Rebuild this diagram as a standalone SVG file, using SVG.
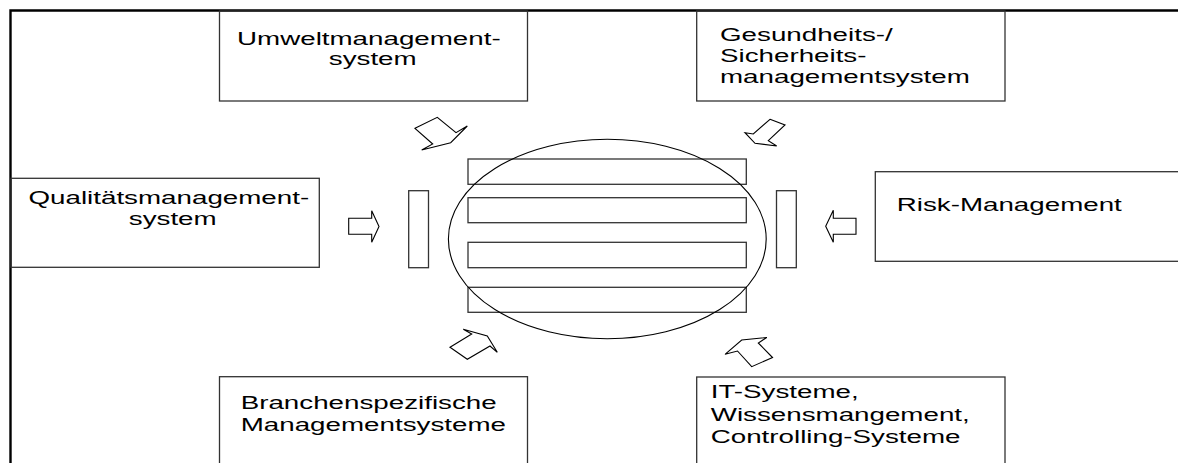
<svg xmlns="http://www.w3.org/2000/svg" width="1178" height="463" viewBox="0 0 1178 463">
  <style>
    .box { fill: none; stroke: #333; stroke-width: 1.3; }
    .bar { fill: none; stroke: #333; stroke-width: 1.3; }
    .core { fill: none; stroke: #000; stroke-width: 1.1; }
    .arrow { fill: #fff; stroke: #000; stroke-width: 1.1; stroke-linejoin: miter; }
    .label { font-family: "Liberation Sans", Arial, sans-serif; font-size: 18.5px; fill: #000; }
  </style>

  <rect x="0" y="0" width="1178" height="463" fill="#fff"/>

  <!-- frame -->
  <path d="M10.5,463 V10.5 H1178" fill="none" stroke="#000" stroke-width="2.4"/>

  <g id="umwelt">
    <rect class="box" x="219.5" y="11" width="308" height="90"/>
    <text class="label" text-anchor="middle" transform="translate(372.7,0) scale(1.5,1)">
      <tspan x="0" y="45">Umweltmanagement-</tspan>
      <tspan x="0" y="65.5">system</tspan>
    </text>
  </g>

  <g id="gesundheit">
    <rect class="box" x="696.7" y="11" width="308.3" height="90"/>
    <text class="label" transform="translate(720,0) scale(1.5,1)">
      <tspan x="0" y="40.7">Gesundheits-/</tspan>
      <tspan x="0" y="61.7">Sicherheits-</tspan>
      <tspan x="0" y="83">managementsystem</tspan>
    </text>
  </g>

  <g id="qualitaet">
    <rect class="box" x="11" y="178.3" width="308.3" height="89"/>
    <text class="label" text-anchor="middle" transform="translate(172.7,0) scale(1.5,1)">
      <tspan x="0" y="204.5">Qualitätsmanagement-</tspan>
      <tspan x="0" y="225.5">system</tspan>
    </text>
  </g>

  <g id="risk">
    <rect class="box" x="875.3" y="171.7" width="320" height="89.6"/>
    <text class="label" transform="translate(896.7,0) scale(1.5,1)">
      <tspan x="0" y="210.7">Risk-Management</tspan>
    </text>
  </g>

  <g id="branchen">
    <rect class="box" x="219.5" y="376.7" width="308" height="100"/>
    <text class="label" transform="translate(240.7,0) scale(1.5,1)">
      <tspan x="0" y="409.3">Branchenspezifische</tspan>
      <tspan x="0" y="431">Managementsysteme</tspan>
    </text>
  </g>

  <g id="it">
    <rect class="box" x="696.7" y="377" width="308.3" height="100"/>
    <text class="label" transform="translate(710.7,0) scale(1.5,1)">
      <tspan x="0" y="398.3">IT-Systeme,</tspan>
      <tspan x="0" y="420.7">Wissensmangement,</tspan>
      <tspan x="0" y="442.7">Controlling-Systeme</tspan>
    </text>
  </g>

  <!-- integrated system: ellipse with layered bars and side posts -->
  <g id="kern">
    <rect class="bar" x="468" y="159" width="278.3" height="25.3"/>
    <rect class="bar" x="468" y="197.7" width="278.3" height="25"/>
    <rect class="bar" x="468" y="242.3" width="278.3" height="25.4"/>
    <rect class="bar" x="468" y="287.3" width="278.3" height="25"/>
    <rect class="bar" x="408.7" y="190.7" width="19.8" height="77"/>
    <rect class="bar" x="776.5" y="190.7" width="19.8" height="77"/>
    <ellipse class="core" cx="607.3" cy="239" rx="158.9" ry="99.7"/>
  </g>

  <g id="connectors">
    <!-- from the left -->
    <polygon class="arrow" points="348.7,218.3 371.7,218.3 371.7,210.7 379,226.5 371.7,242.3 371.7,234.3 348.7,234.3"/>
    <!-- from the right -->
    <polygon class="arrow" points="856,218.3 833.3,218.3 833.3,210.3 825.7,226.3 833.3,242.3 833.3,234.3 856,234.3"/>
    <!-- from top left -->
    <polygon class="arrow" points="415,128.3 437.3,117.3 456,132.7 467.3,126 450.7,142.7 421.7,150 432.7,144"/>
    <!-- from top right -->
    <polygon class="arrow" points="770,119.3 785,125 768.3,140.7 776.7,146 755,143.3 745,132.7 753.3,134"/>
    <!-- from bottom left -->
    <polygon class="arrow" points="450,347.3 471.7,334 463.3,329.3 487.3,336 497.3,352.3 490,346 467.3,359.3"/>
    <!-- from bottom right -->
    <polygon class="arrow" points="772.5,357.5 758.3,343 766.7,337.5 741.7,340 725,354.3 737.5,351 751.7,366.7"/>
  </g>
</svg>
